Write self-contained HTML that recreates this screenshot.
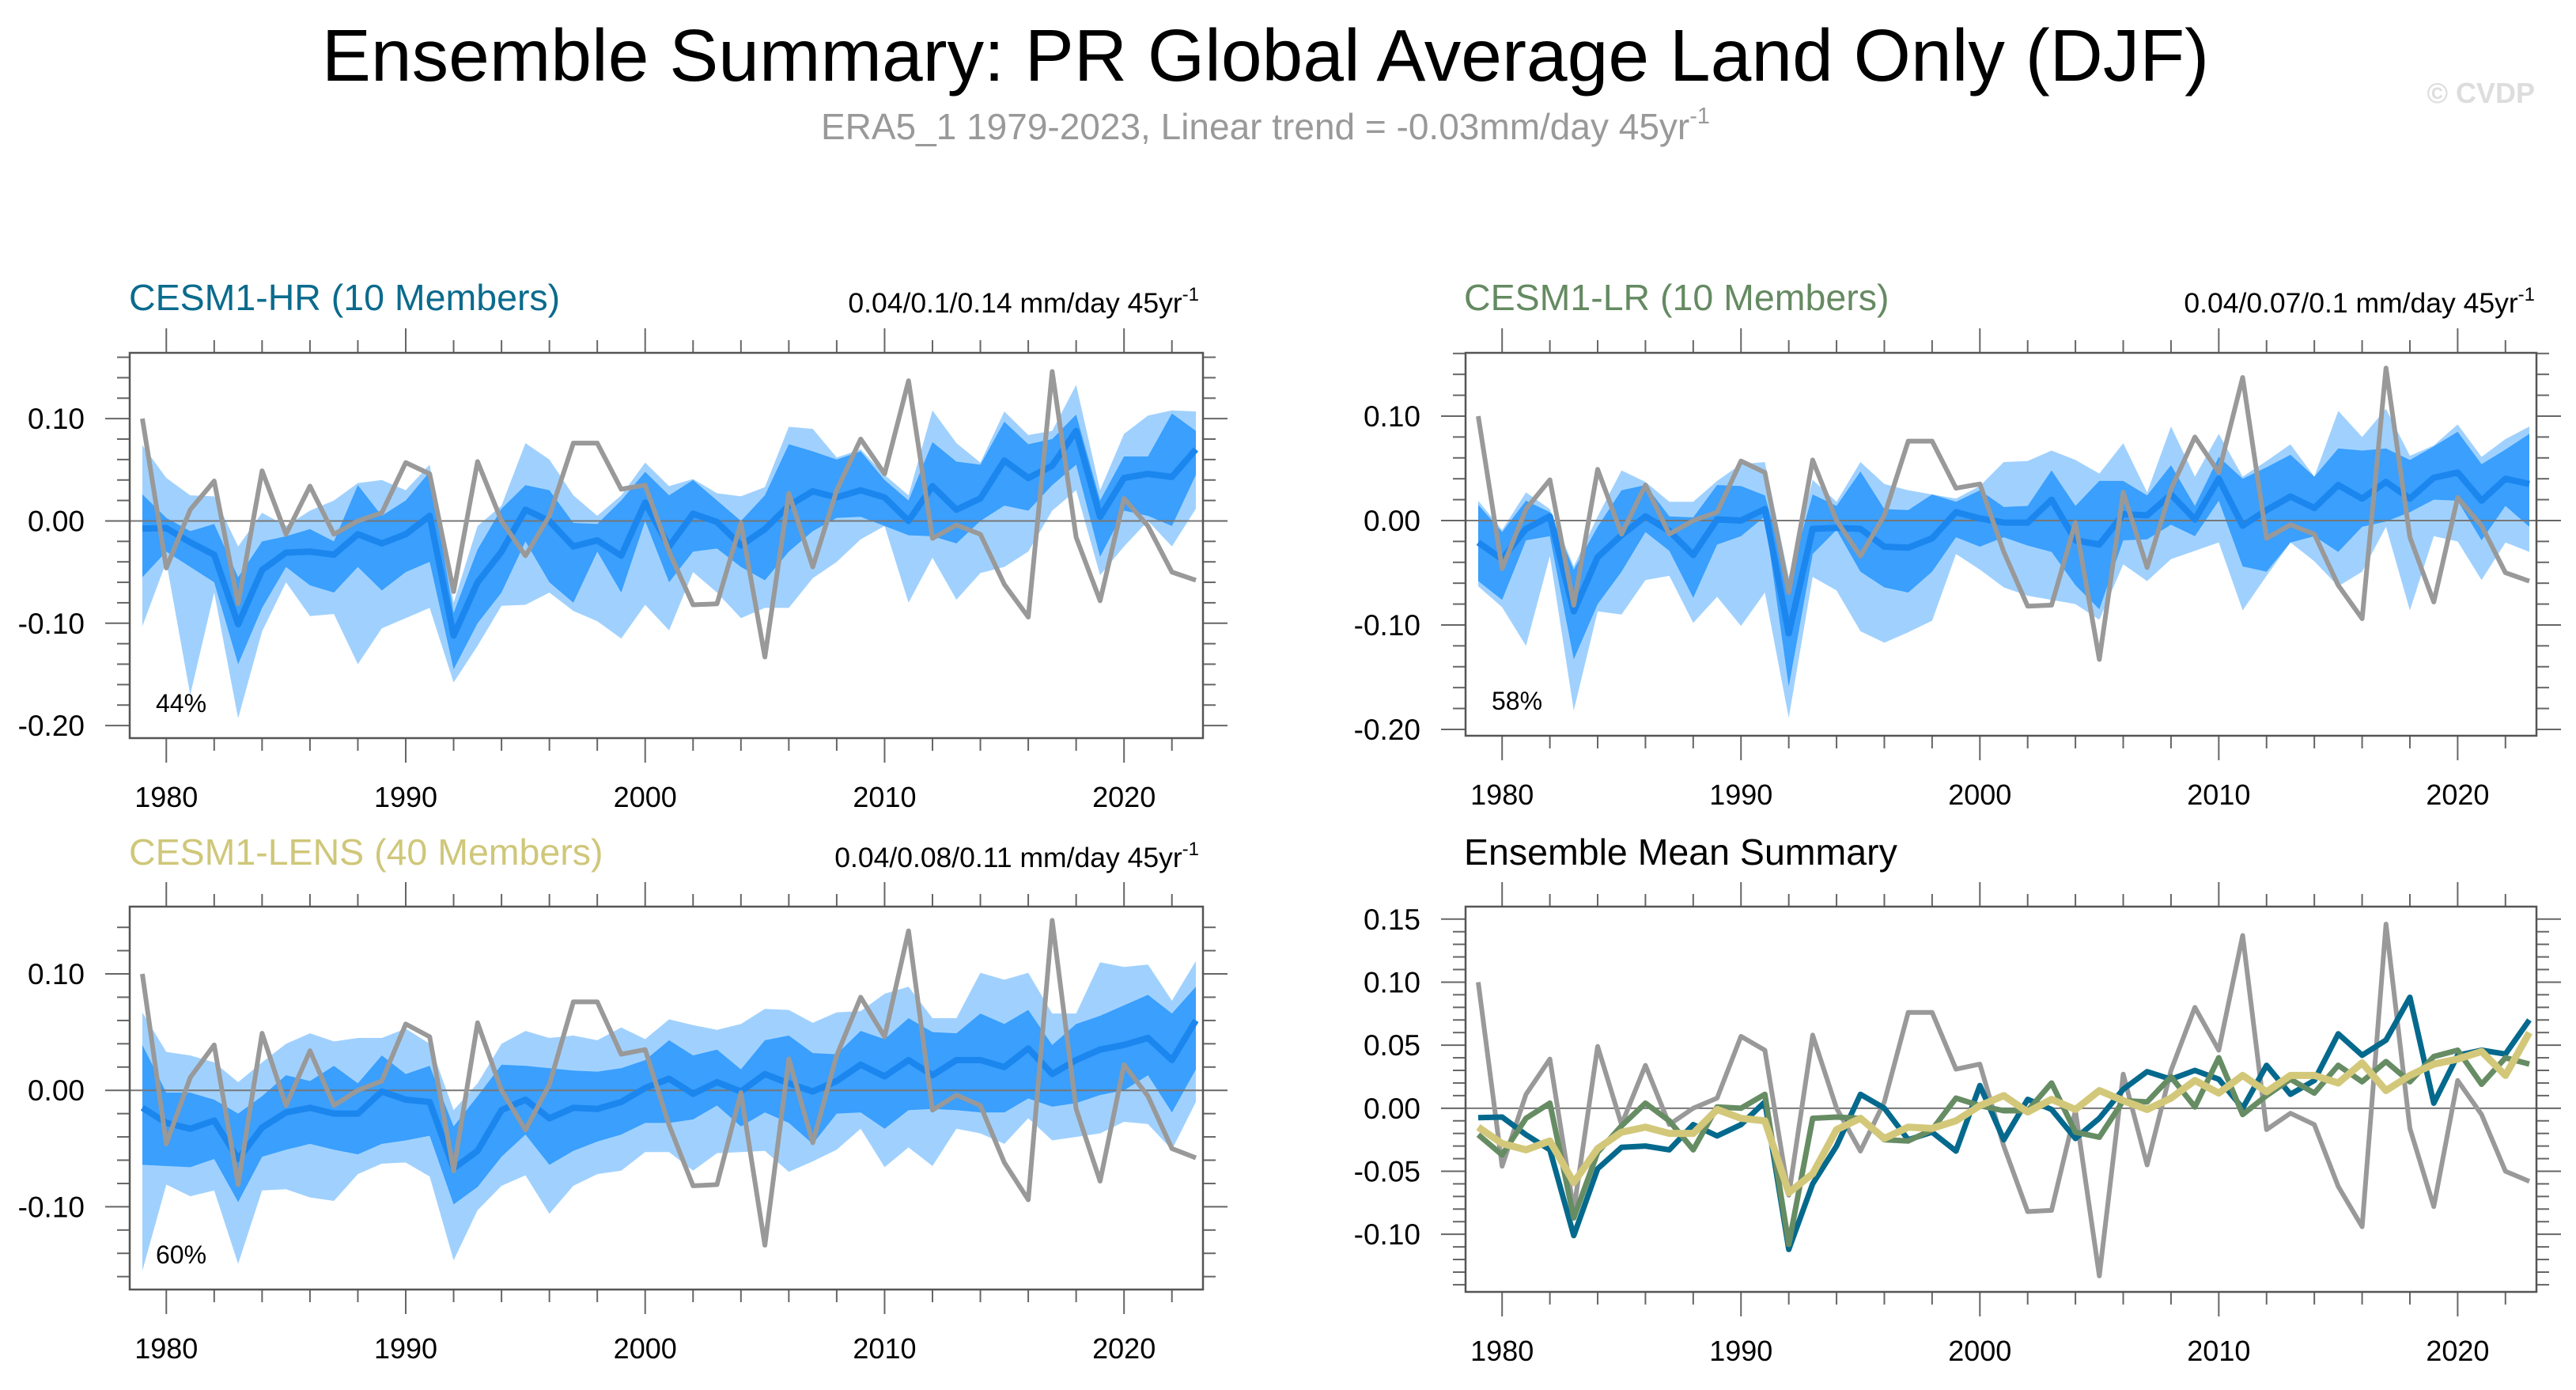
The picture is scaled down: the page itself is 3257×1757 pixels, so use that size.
<!DOCTYPE html>
<html><head><meta charset="utf-8"><title>Ensemble Summary PR</title>
<style>
html,body{margin:0;padding:0;background:#fff;}
body{width:3257px;height:1752px;overflow:hidden;font-family:"Liberation Sans",sans-serif;}
svg text{font-family:"Liberation Sans",sans-serif;}
</style></head>
<body>
<svg id="fig" width="3257" height="1752" viewBox="0 0 3257 1752" xmlns="http://www.w3.org/2000/svg">
<text x="1600" y="102" font-size="93" text-anchor="middle" fill="#000">Ensemble Summary: PR Global Average Land Only (DJF)</text>
<text x="1600" y="176" font-size="46" text-anchor="middle" fill="#999">ERA5_1 1979-2023, Linear trend = -0.03mm/day 45yr<tspan font-size="29" dy="-20">-1</tspan></text>
<text x="3205" y="130" font-size="36" font-weight="bold" text-anchor="end" fill="#ddd">© CVDP</text>
<text x="163" y="392" font-size="46.5" fill="#0b6b8d">CESM1-HR (10 Members)</text>
<text x="1516" y="395" font-size="35.5" text-anchor="end" fill="#000">0.04/0.1/0.14 mm/day 45yr<tspan font-size="24" dy="-15">-1</tspan></text>
<text x="1851" y="392" font-size="46.5" fill="#658a62">CESM1-LR (10 Members)</text>
<text x="3205" y="395" font-size="35.5" text-anchor="end" fill="#000">0.04/0.07/0.1 mm/day 45yr<tspan font-size="24" dy="-15">-1</tspan></text>
<text x="163" y="1093" font-size="46.5" fill="#cfc77a">CESM1-LENS (40 Members)</text>
<text x="1516" y="1096" font-size="35.5" text-anchor="end" fill="#000">0.04/0.08/0.11 mm/day 45yr<tspan font-size="24" dy="-15">-1</tspan></text>
<text x="1851" y="1093" font-size="46.5" fill="#000">Ensemble Mean Summary</text>
</svg>
<script>
const years = [];
for (let y = 1979; y <= 2023; y++) years.push(y);

const era5 = [0.100,-0.046,0.011,0.039,-0.081,0.049,-0.013,0.034,-0.013,0.000,0.008,0.057,0.046,-0.069,0.058,0.000,-0.034,0.005,0.076,0.076,0.031,0.035,-0.030,-0.082,-0.081,-0.002,-0.133,0.027,-0.045,0.030,0.080,0.046,0.137,-0.017,-0.004,-0.013,-0.062,-0.094,0.146,-0.016,-0.078,0.022,-0.005,-0.050,-0.058];

const hrMean = [-0.0075,-0.007,-0.021,-0.033,-0.101,-0.048,-0.031,-0.030,-0.033,-0.013,-0.022,-0.013,0.005,-0.112,-0.060,-0.030,0.011,0.000,-0.025,-0.019,-0.034,0.018,-0.025,0.007,-0.001,-0.024,-0.008,0.015,0.029,0.023,0.030,0.023,0.000,0.034,0.011,0.022,0.059,0.042,0.054,0.088,0.004,0.042,0.046,0.043,0.070];
const hrOuterUp = [0.074,0.042,0.025,0.024,-0.025,0.008,-0.005,0.010,0.020,0.037,0.040,0.030,0.055,-0.080,-0.005,0.015,0.076,0.060,0.025,0.005,0.025,0.057,0.034,0.041,0.027,0.024,0.033,0.092,0.090,0.062,0.070,0.045,0.025,0.108,0.076,0.057,0.107,0.084,0.088,0.133,0.030,0.085,0.103,0.108,0.107];
const hrInnerUp = [0.026,0.003,-0.010,-0.003,-0.055,-0.020,-0.015,-0.008,-0.020,0.035,0.005,0.020,0.048,-0.090,-0.028,0.012,0.035,0.030,-0.002,-0.003,0.020,0.048,0.025,0.040,0.020,0.000,0.025,0.075,0.068,0.060,0.068,0.040,0.020,0.077,0.058,0.055,0.097,0.075,0.080,0.104,0.020,0.063,0.063,0.105,0.088];
const hrInnerLow = [-0.055,-0.030,-0.045,-0.060,-0.140,-0.085,-0.045,-0.063,-0.070,-0.045,-0.068,-0.050,-0.040,-0.145,-0.100,-0.070,-0.020,-0.060,-0.080,-0.030,-0.070,0.000,-0.060,-0.030,-0.027,-0.045,-0.058,-0.030,-0.010,0.003,0.004,-0.005,-0.014,-0.015,-0.022,0.000,0.015,0.010,0.035,0.055,-0.035,0.010,0.005,-0.005,0.045];
const hrOuterLow = [-0.103,-0.040,-0.170,-0.070,-0.193,-0.108,-0.060,-0.093,-0.091,-0.140,-0.105,-0.095,-0.085,-0.158,-0.122,-0.083,-0.082,-0.070,-0.088,-0.098,-0.115,-0.082,-0.107,-0.050,-0.070,-0.095,-0.085,-0.085,-0.056,-0.040,-0.018,-0.005,-0.080,-0.036,-0.077,-0.051,-0.045,-0.030,0.010,0.030,-0.053,-0.025,0.000,-0.025,0.012];

const lrMean = [-0.021,-0.037,-0.008,0.004,-0.087,-0.035,-0.014,0.004,-0.010,-0.033,0.001,0.000,0.011,-0.108,-0.008,-0.007,-0.008,-0.025,-0.026,-0.017,0.008,0.002,-0.002,-0.002,0.020,-0.019,-0.023,0.006,0.005,0.025,0.001,0.040,-0.005,0.010,0.023,0.012,0.034,0.021,0.037,0.021,0.041,0.046,0.019,0.040,0.035];
const lrOuterUp = [0.019,-0.009,0.027,0.011,-0.044,0.004,0.048,0.037,0.018,0.018,0.038,0.054,0.056,-0.054,0.039,0.018,0.056,0.035,0.029,0.025,0.021,0.033,0.056,0.057,0.067,0.058,0.045,0.074,0.027,0.090,0.042,0.083,0.042,0.057,0.073,0.042,0.105,0.080,0.107,0.062,0.072,0.092,0.061,0.078,0.090];
const lrInnerUp = [0.015,-0.011,0.019,0.008,-0.047,-0.006,0.029,0.034,0.004,0.003,0.034,0.033,0.024,-0.057,0.025,0.014,0.047,0.011,0.010,0.025,0.018,0.029,0.013,0.014,0.048,0.014,0.038,0.038,0.024,0.053,0.014,0.061,0.040,0.051,0.063,0.042,0.069,0.067,0.069,0.058,0.071,0.085,0.054,0.068,0.083];
const lrInnerLow = [-0.058,-0.076,-0.019,-0.015,-0.133,-0.080,-0.049,-0.011,-0.029,-0.074,-0.023,-0.015,0.004,-0.159,-0.032,-0.009,-0.049,-0.064,-0.069,-0.049,-0.016,-0.025,-0.016,-0.024,-0.030,-0.062,-0.085,-0.019,-0.018,-0.004,-0.015,0.019,-0.044,-0.049,-0.021,-0.015,-0.030,-0.006,-0.001,0.008,0.020,0.019,-0.019,0.014,-0.006];
const lrOuterLow = [-0.063,-0.083,-0.120,-0.034,-0.182,-0.087,-0.090,-0.057,-0.053,-0.098,-0.073,-0.101,-0.069,-0.189,-0.054,-0.067,-0.106,-0.117,-0.107,-0.096,-0.032,-0.047,-0.064,-0.072,-0.076,-0.080,-0.095,-0.042,-0.058,-0.037,-0.029,-0.021,-0.086,-0.053,-0.021,-0.039,-0.063,-0.049,-0.006,-0.086,-0.015,-0.020,-0.057,-0.021,-0.030];

const lensMean = [-0.015,-0.028,-0.033,-0.026,-0.059,-0.032,-0.019,-0.015,-0.020,-0.020,-0.001,-0.008,-0.010,-0.067,-0.052,-0.017,-0.008,-0.024,-0.015,-0.016,-0.010,0.002,0.010,-0.003,0.007,-0.001,0.014,0.006,-0.001,0.008,0.022,0.012,0.026,0.013,0.026,0.026,0.020,0.036,0.014,0.026,0.035,0.039,0.045,0.026,0.060];
const lensOuterUp = [0.067,0.033,0.030,0.024,0.007,0.024,0.040,0.049,0.042,0.045,0.045,0.053,0.040,-0.017,0.006,0.040,0.051,0.045,0.047,0.043,0.054,0.044,0.061,0.056,0.052,0.057,0.070,0.069,0.058,0.067,0.068,0.083,0.089,0.062,0.062,0.101,0.095,0.101,0.066,0.066,0.110,0.106,0.108,0.077,0.111];
const lensInnerUp = [0.039,-0.002,-0.002,-0.008,-0.020,-0.005,0.013,0.008,0.021,0.006,0.030,0.014,0.021,-0.031,-0.005,0.022,0.021,0.019,0.017,0.016,0.019,0.026,0.043,0.030,0.035,0.018,0.043,0.047,0.032,0.031,0.051,0.044,0.062,0.050,0.049,0.066,0.057,0.069,0.039,0.057,0.064,0.073,0.082,0.066,0.089];
const lensInnerLow = [-0.064,-0.065,-0.066,-0.059,-0.096,-0.057,-0.051,-0.046,-0.051,-0.055,-0.046,-0.043,-0.039,-0.098,-0.083,-0.057,-0.038,-0.064,-0.052,-0.044,-0.038,-0.028,-0.028,-0.025,-0.013,-0.031,-0.019,-0.028,-0.046,-0.020,-0.019,-0.033,-0.017,-0.016,-0.017,-0.019,-0.019,-0.007,-0.014,-0.011,-0.004,0.000,0.013,-0.019,0.018];
const lensOuterLow = [-0.155,-0.081,-0.091,-0.086,-0.149,-0.086,-0.085,-0.092,-0.095,-0.072,-0.063,-0.062,-0.074,-0.146,-0.103,-0.082,-0.073,-0.106,-0.082,-0.072,-0.069,-0.053,-0.053,-0.069,-0.054,-0.053,-0.052,-0.070,-0.061,-0.051,-0.033,-0.066,-0.049,-0.065,-0.033,-0.037,-0.046,-0.024,-0.043,-0.040,-0.037,-0.027,-0.029,-0.051,-0.010];

const xMajorTicks = [1980,1990,2000,2010,2020];
const ySmallTicks = [-0.2,-0.1,0,0.1];
const yLensTicks = [-0.1,0,0.1];
const ySummaryTicks = [-0.1,-0.05,0,0.05,0.1,0.15];

const svg = document.getElementById('fig');
const NS = 'http://www.w3.org/2000/svg';
function mk(tag, attrs, parent) {
  const e = document.createElementNS(NS, tag);
  for (const k in attrs) e.setAttribute(k, attrs[k]);
  (parent || svg).appendChild(e);
  return e;
}

function makePanel(name, L, R, T, B, ymin, ymax, yTicks, minorStep, pctText) {
  const g = mk('g', {});
  
  
  const x0 = L + 16, x1 = R - 9;
  const sx = y => x0 + (y - 1979) * (x1 - x0) / 44;
  const sy = v => B - (v - ymin) * (B - T) / (ymax - ymin);
  const ax = mk('g', {stroke: '#666', 'stroke-width': 2}, g);
  
  
  for (let y = 1978; y <= 2024; y += 2) {
    const x = sx(y);
    if (x < L || x > R) continue;
    const maj = y % 10 === 0;
    const len = maj ? 31 : 16;
    mk('line', {x1: x, x2: x, y1: T, y2: T - len}, ax);
    mk('line', {x1: x, x2: x, y1: B, y2: B + len}, ax);
  }
  for (let v = Math.ceil(ymin / minorStep) * minorStep; v <= ymax + 1e-9; v += minorStep) {
    const y = sy(v);
    const isMaj = yTicks.some(t => Math.abs(t - v) < 1e-6);
    const len = isMaj ? 31 : 16;
    mk('line', {x1: L, x2: L - len, y1: y, y2: y}, ax);
    mk('line', {x1: R, x2: R + len, y1: y, y2: y}, ax);
  }
  yTicks.forEach(t => {
    const lab = mk('text', {x: L - 57, y: sy(t) + 13, 'font-size': 37, 'text-anchor': 'end', fill: '#000'}, g);
    
    
    lab.textContent = t.toFixed(2);
  });
  xMajorTicks.forEach(t => {
    const lab = mk('text', {x: sx(t), y: B + 87, 'font-size': 36, 'text-anchor': 'middle', fill: '#000'}, g);
    
    
    lab.textContent = t;
  });
  if (pctText) {
    const p = mk('text', {x: L + 33, y: B - 33, 'font-size': 32, fill: '#000'}, g);
    
    
    p.textContent = pctText;
  }
  return {g, sx, sy, L, R, T, B};
}

function band(p, up, low, color, nm) {
  const pts = years.map((y, i) => p.sx(y) + ',' + p.sy(up[i]))
    .concat(years.slice().reverse().map((y, j) => p.sx(y) + ',' + p.sy(low[years.length - 1 - j])));
  const e = mk('polygon', {points: pts.join(' '), fill: color}, p.g);
  
  
}
function line(p, vals, color, w, nm) {
  const pts = years.map((y, i) => p.sx(y) + ',' + p.sy(vals[i])).join(' ');
  const e = mk('polyline', {points: pts, fill: 'none', stroke: color, 'stroke-width': w, 'stroke-linejoin': 'round'}, p.g);
  
  
}
function zero(p) {
  const e = mk('line', {x1: p.L, x2: p.R, y1: p.sy(0), y2: p.sy(0), stroke: '#777', 'stroke-width': 2}, p.g);
  
  
}
function frame(p) {
  const e = mk('rect', {x: p.L, y: p.T, width: p.R - p.L, height: p.B - p.T, fill: 'none', stroke: '#555', 'stroke-width': 2.5}, p.g);
  
  
}

function ensemblePanel(name, L, R, T, B, ymin, ymax, ticks, pct, oU, iU, iL, oL, mean) {
  const p = makePanel(name, L, R, T, B, ymin, ymax, ticks, 0.02, pct);
  band(p, oU, oL, '#a0d1fe', 'outer-spread-band');
  band(p, iU, iL, '#3a9ffd', 'inner-spread-band');
  zero(p);
  line(p, mean, '#1b86ee', 8, 'ensemble-mean-line');
  line(p, era5, '#999999', 6, 'era5-line');
  frame(p);
}

ensemblePanel('hr-panel', 164, 1521, 446, 933, -0.2123, 0.1643, ySmallTicks, '44%', hrOuterUp, hrInnerUp, hrInnerLow, hrOuterLow, hrMean);
ensemblePanel('lr-panel', 1853, 3207, 446, 930, -0.2061, 0.1606, ySmallTicks, '58%', lrOuterUp, lrInnerUp, lrInnerLow, lrOuterLow, lrMean);
ensemblePanel('lens-panel', 164, 1521, 1146, 1630, -0.1711, 0.1578, yLensTicks, '60%', lensOuterUp, lensInnerUp, lensInnerLow, lensOuterLow, lensMean);

const ps = makePanel('summary-panel', 1853, 3207, 1146, 1633, -0.1457, 0.1599, ySummaryTicks, 0.01, null);
zero(ps);
line(ps, era5, '#999999', 6, 'era5-line');
line(ps, hrMean, '#04698d', 7, 'hr-mean-line');
line(ps, lrMean, '#668c63', 7, 'lr-mean-line');
line(ps, lensMean, '#d3c87a', 9, 'lens-mean-line');
frame(ps);
</script>
</body></html>
